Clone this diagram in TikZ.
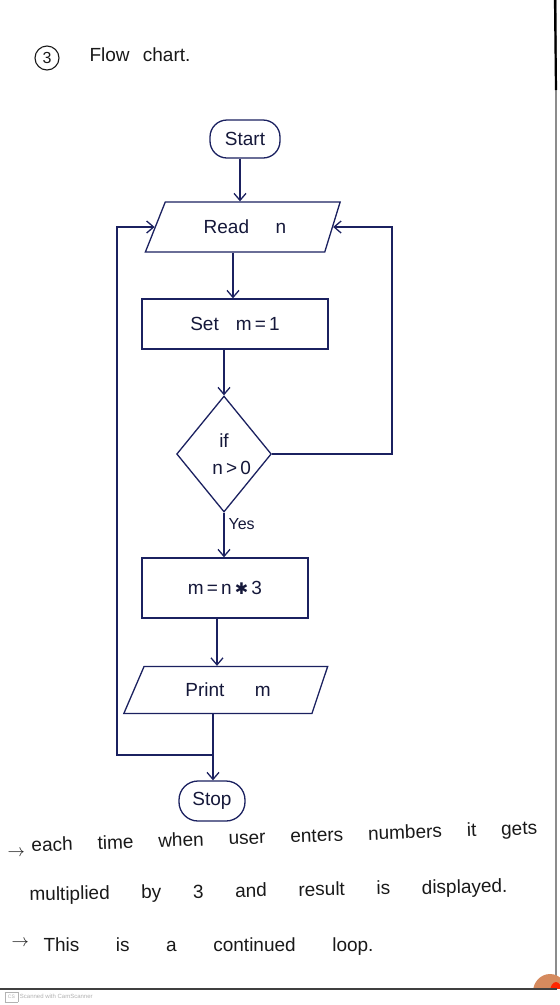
\documentclass[tikz,border=0pt]{standalone}
\usepackage{fontspec}
\setmainfont{Liberation Sans}
\newfontfamily\symfont{DejaVu Sans}
\usetikzlibrary{shapes.geometric,arrows.meta}
\definecolor{ink}{HTML}{1B2160}
\definecolor{pen}{HTML}{15183A}
\definecolor{skin}{HTML}{D58A5E}
\begin{document}
\begin{tikzpicture}[x=1pt,y=-1pt,
  every node/.style={font=\fontsize{19}{22}\selectfont, text=pen},
  term/.style={draw=ink, line width=1.3pt, rectangle, rounded corners=17pt, minimum width=70pt, minimum height=38pt, inner sep=1pt},
  io/.style={draw=ink, line width=1.3pt, trapezium, trapezium left angle=59, trapezium right angle=115,
     trapezium stretches=true, minimum width=195pt, minimum height=50pt, inner sep=2pt},
  proc/.style={draw=ink, line width=1.3pt, rectangle, minimum width=186pt, minimum height=50pt},
  dec/.style={draw=ink, line width=1.3pt, diamond, minimum width=88pt, minimum height=116pt, inner sep=0pt, align=center},
  flow/.style={draw=ink, line width=1.3pt, -{Straight Barb[length=7pt,width=12pt]}},
  note/.style={anchor=west, font=\fontsize{19}{22}\selectfont, text=black!90}]
\useasboundingbox (0,0) rectangle (560,1005);
\fill[white] (0,0) rectangle (560,1005);

% title
\node[circle, draw=black!90, line width=1.1pt, inner sep=1pt, minimum size=24pt, font=\fontsize{16}{18}\selectfont, text=black!90] (num) at (47,58) {3};
\node[anchor=west, text=black!90] (title) at (86,55) {Flow\hspace{0.7em}chart.};

% chart
\node[term] (start) at (245,139) {Start};
\node[io] (read) at (245,227) {Read\hspace{1.4em}n\hspace{18pt}};
\node[proc] (set) at (235,324) {Set\hspace{0.9em}m\,=\,1\hspace{42pt}};
\node[dec] (dec) at (224,454) {if\\[5pt]\hspace{0.8em}n\,>\,0};
\node[anchor=west, font=\fontsize{16}{18}\selectfont] (yes) at (225,524) {Yes};
\node[proc, minimum width=166pt, minimum height=60pt] (mult) at (225,588) {m\,=\,n\,{\symfont\fontsize{16}{18}\selectfont ✱}\,3\hspace{24pt}};
\node[io, minimum width=204pt, minimum height=47pt] (print) at (228,690) {Print\hspace{1.6em}m\hspace{16pt}};
\node[term, minimum width=66pt, minimum height=40pt, rounded corners=19pt] (stop) at (212,801) {Stop};

\coordinate (j) at (213,755);
\coordinate (lc) at (117,755);
\coordinate (rc) at (392,350);

\draw[flow] (start.south -| 240,0) -- (read.north -| 240,0);
\draw[flow] (read.south -| 233,0) -- (set.north -| 233,0);
\draw[flow] (set.south -| dec.north) -- (dec.north);
\draw[flow] (dec.south) -- (mult.north -| dec.south);
\draw[flow] (mult.south -| 217,0) -- (print.north -| 217,0);
\draw[flow] (print.south -| j) -- (stop.north -| j);

% loops
\draw[flow] (j) -- (lc) |- (read.west);
\draw[flow] (dec.east) -| (rc) |- (read.east);

% notes
\node[note] (a1) at (4,853) {$\rightarrow$};
\node[note, rotate=2] (n1) at (28,847) {\makebox[506pt][s]{each time when user enters numbers it gets}};
\node[note, rotate=1] (n2) at (26,896) {\makebox[478pt][s]{multiplied by 3 and result is displayed.}};
\node[note] (a2) at (8,943) {$\rightarrow$};
\node[note] (n3) at (40,947) {\makebox[330pt][s]{This is a continued loop.}};

% scan edges, finger & watermark
\draw[black!45, line width=1.2pt] (556,0) -- (556,989);
\draw[black, line width=2.2pt] (555,0) -- (556,90);
\begin{scope}
  \clip (520,960) rectangle (560,988);
  \fill[skin] (550,992) ellipse (17pt and 18pt);
  \fill[red!70!orange] (556,992) ellipse (6pt and 10pt);
\end{scope}
\draw[black!75, line width=1.6pt] (0,989) -- (557,989);
\node[anchor=west, font=\fontsize{6}{7}\selectfont, text=gray!60] (wm) at (1,997) {\fbox{\fontsize{5}{6}\selectfont CS}\ Scanned with CamScanner};
\end{tikzpicture}
\end{document}
